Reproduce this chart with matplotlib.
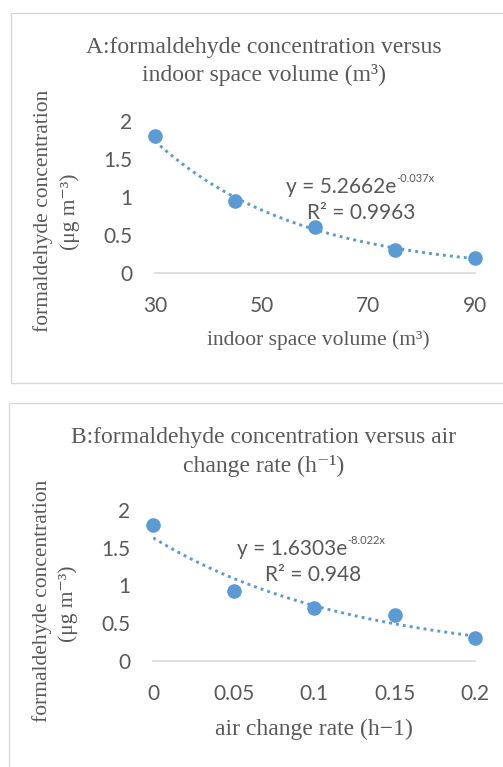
import numpy as np
import matplotlib
matplotlib.use('agg')
import matplotlib.pyplot as plt
import matplotlib.patches as patches

W, H = 503, 767
DPI = 100

# panel A data
vol_x = [30, 45, 60, 75, 90]
vol_y = [1.8, 0.95, 0.6, 0.3, 0.2]
vol_fit = (5.2662, -0.037)
vol_xticks = [30, 50, 70, 90]

# panel B data
ach_x = [0, 0.05, 0.1, 0.15, 0.2]
ach_y = [1.8, 0.92, 0.7, 0.6, 0.3]
ach_fit = (1.6303, -8.022)
ach_xticks = [0, 0.05, 0.1, 0.15, 0.2]
ach_xticklabels = ['0', '0.05', '0.1', '0.15', '0.2']

yticks = [0, 0.5, 1, 1.5, 2]
yticklabels = ['0', '0.5', '1', '1.5', '2']

BLUE = '#5B9BD5'
GREY = '#595959'
SERIF = ['Liberation Serif', 'DejaVu Serif']
SANS = ['Lato', 'DejaVu Sans']

fig = plt.figure(figsize=(W / DPI, H / DPI), dpi=DPI)


def fx(x):
    return x / W


def fy(y):
    return 1 - y / H


def add_axes_px(left, right, top, bottom):
    return fig.add_axes([fx(left), fy(bottom), (right - left) / W, (bottom - top) / H])


def ftext(x, y, s, **kw):
    return fig.text(fx(x), fy(y), s, **kw)


def panel(box, ax_box, xs, ys, fit, xticks, xticklabels, titles, ylab_pos,
          xlab, xlab_pos, xlab_size, eq_pos, r2_text, r2_pos, sup_text):
    # outer border (right side runs off the image)
    left, top, right, bottom = box
    fig.patches.append(patches.Rectangle((fx(left), fy(bottom)), (right - left) / W,
                                         (bottom - top) / H, transform=fig.transFigure,
                                         fill=False, edgecolor='#D9D9D9', linewidth=1))

    ax = add_axes_px(*ax_box)
    xlo, xhi = xs[0], xs[-1]
    ax.set_xlim(xlo, xhi)
    ax.set_ylim(0, 2)
    for s in ['top', 'right', 'left']:
        ax.spines[s].set_visible(False)
    ax.spines['bottom'].set_color('#D9D9D9')
    ax.spines['bottom'].set_linewidth(1.2)
    ax.set_xticks(xticks)
    ax.set_xticklabels(xticklabels)
    ax.set_yticks(yticks)
    ax.set_yticklabels(yticklabels)
    ax.tick_params(length=0, colors=GREY, labelsize=15)
    ax.tick_params(axis='y', pad=16.5)
    ax.tick_params(axis='x', pad=16.5)
    for lab in ax.get_xticklabels() + ax.get_yticklabels():
        lab.set_family(SANS)
    ax.patch.set_visible(False)

    xx = np.linspace(xlo, xhi, 200)
    a, b = fit
    ax.plot(xx, a * np.exp(b * xx), color=BLUE, lw=2.1, linestyle=(0, (1, 1.4)),
            clip_on=False, zorder=2)
    ax.plot(xs, ys, 'o', color=BLUE, ms=10.5, mec='none', clip_on=False, zorder=3)

    # titles
    for (tx, ty), s in titles:
        ftext(tx, ty, s, ha='center', va='center', fontsize=17, color=GREY, family=SERIF)
    # y label (two lines)
    (x1, y1), (x2, y2) = ylab_pos
    ftext(x1, y1, 'formaldehyde concentration', rotation=90, ha='center', va='center',
          fontsize=15.5, color=GREY, family=SERIF)
    ftext(x2, y2, '(μg m⁻³)', rotation=90, ha='center', va='center',
          fontsize=15.5, color=GREY, family=SERIF)
    ftext(xlab_pos[0], xlab_pos[1], xlab, ha='center', va='center', fontsize=xlab_size,
          color=GREY, family=SERIF)

    # trendline equation
    main = ftext(eq_pos[0], eq_pos[1], 'y = %.4fe' % a, ha='left', va='baseline',
                 fontsize=15, color=GREY, family=SANS)
    fig.canvas.draw()
    bb = main.get_window_extent()
    fig.text(bb.x1 / W, fy(eq_pos[1] - 11), sup_text, ha='left', va='baseline',
             fontsize=8, color=GREY, family=SANS)
    ftext(r2_pos[0], r2_pos[1], r2_text, ha='left', va='baseline', fontsize=15,
          color=GREY, family=SANS)
    return ax


panel((11, 13, 530, 383), (155, 475, 121, 273), vol_x, vol_y, vol_fit, vol_xticks,
      [str(v) for v in vol_xticks],
      [((264, 48), 'A:formaldehyde concentration versus'),
       ((264, 75), 'indoor space volume (m³)')],
      ((43, 211), (70, 212)),
      'indoor space volume (m³)', (318, 340), 15.5,
      (286, 193), 'R² = 0.9963', (307, 219), '-0.037x')

panel((9, 403, 530, 800), (153.3, 475, 510, 660.7), ach_x, ach_y, ach_fit, ach_xticks,
      ach_xticklabels,
      [((264, 438), 'B:formaldehyde concentration versus air'),
       ((264, 466), 'change rate (h⁻¹)')],
      ((42, 601), (68, 604)),
      'air change rate (h−1)', (314, 729), 17,
      (237, 555), 'R² = 0.948', (265, 581), '-8.022x')

fig.savefig('out.png', dpi=DPI)
plt.close(fig)
